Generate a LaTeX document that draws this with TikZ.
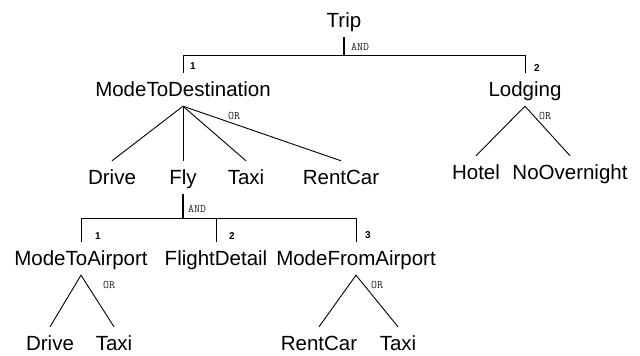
\documentclass[tikz,border=0pt]{standalone}
\usepackage{fontspec}
\setmainfont{Liberation Sans}
\usetikzlibrary{calc}
\tikzset{
  item/.style={anchor=base, font=\fontsize{20.5}{20.5}\selectfont,
    text height=15pt, text depth=0pt, inner ysep=9pt, inner xsep=0pt},
  leaf/.style={item, text height=24pt, inner ysep=0pt},
  gate/.style={font=\fontsize{11.5}{11.5}\selectfont\ttfamily, text=black!85, inner sep=0pt},
  num/.style={font=\fontsize{10}{10}\selectfont\bfseries, inner sep=0pt},
  link/.style={line width=0.9pt}
}

\begin{document}
\begin{tikzpicture}[x=1pt, y=1pt]
\useasboundingbox (0,0) rectangle (640,356);

% top level
\node[item] (trip) at (344,328) {Trip};
\node[item] (mtd) at (183,259) {ModeToDestination};
\node[item] (lodging) at (525,259) {Lodging};

\coordinate (tripbar) at ($(trip.south)!0.5!(trip.south |- mtd.north)$);
\draw[line width=1.2] (trip.south) -- (trip.south |- tripbar);
\draw[link] (mtd.north) |- (lodging.north |- tripbar) -- (lodging.north);
\node[gate, anchor=south west] (tripand) at ($(trip.south |- tripbar)+(7,4.5)$) {AND};
\node[num] (mtdnum) at ($(mtd.north)+(10,7)$) {1};
\node[num] (lodgingnum) at ($(lodging.north)+(12,5)$) {2};

% modes to destination
\node[item] (drivea) at (112,171) {Drive};
\node[item] (fly) at (183,171) {Fly};
\node[item] (taxia) at (246,171) {Taxi};
\node[item] (rentcara) at (341,171) {RentCar};
\foreach \c in {drivea,fly,taxia,rentcara}
  \draw[link] (mtd.south) -- (\c.north);
\node[gate] (mtdor) at ($(mtd.south)+(51,-10)$) {OR};

% lodging
\node[item] (hotel) at (476,176) {Hotel};
\node[item] (noovernight) at (570,176) {NoOvernight};
\draw[link] (hotel.north) -- (lodging.south) -- (noovernight.north);
\node[gate] (lodgingor) at ($(lodging.south)+(20,-10)$) {OR};

% flight
\node[item] (mta) at (81,90) {ModeToAirport};
\node[item] (fd) at (216,90) {FlightDetail};
\node[item] (mfa) at (356,90) {ModeFromAirport};

\coordinate (flybar) at ($(fly.south)!0.5!(fly.south |- mta.north)$);
\draw[line width=2] (fly.south) -- (fly.south |- flybar);
\draw[link] (mta.north) |- (mfa.north |- flybar) -- (mfa.north);
\draw[link] (fd.north) -- (fd.north |- flybar);
\node[gate, anchor=south west] (flyand) at ($(fly.south |- flybar)+(5,5)$) {AND};
\node[num] (mtanum) at ($(mta.north)+(17,6)$) {1};
\node[num] (fdnum) at ($(fd.north)+(16,6)$) {2};
\node[num] (mfanum) at ($(mfa.north)+(12,7)$) {3};

% airport legs
\node[leaf] (driveb) at (50,5) {Drive};
\node[leaf] (taxib) at (114,5) {Taxi};
\node[leaf] (rentcarb) at (319,5) {RentCar};
\node[leaf] (taxic) at (398,5) {Taxi};
\draw[link] (driveb.north) -- (mta.south) -- (taxib.north);
\node[gate] (mtaor) at ($(mta.south)+(28,-10)$) {OR};
\draw[link] (rentcarb.north) -- (mfa.south) -- (taxic.north);
\node[gate] (mfaor) at ($(mfa.south)+(21,-10)$) {OR};

\end{tikzpicture}
\end{document}
